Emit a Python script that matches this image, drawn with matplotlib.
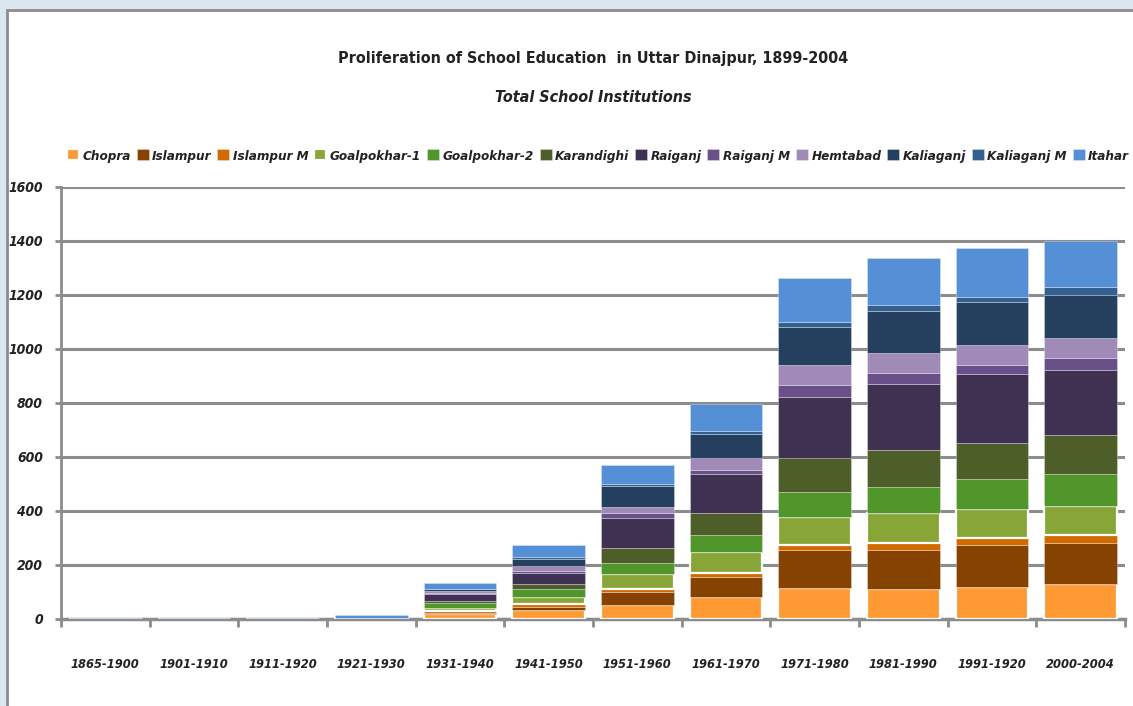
import matplotlib.pyplot as plt
from matplotlib.patches import Rectangle
import numpy as np

periods = ['1865-1900', '1901-1910', '1911-1920', '1921-1930', '1931-1940', '1941-1950',
           '1951-1960', '1961-1970', '1971-1980', '1981-1990', '1991-1920', '2000-2004']

blocks = ['Chopra', 'Islampur', 'Islampur M', 'Goalpokhar-1', 'Goalpokhar-2', 'Karandighi',
          'Raiganj', 'Raiganj M', 'Hemtabad', 'Kaliaganj', 'Kaliaganj M', 'Itahar']

chopra       = [0, 0, 0, 4, 17, 34, 53, 80, 115, 111, 120, 129]
islampur     = [0, 0, 0, 0, 6, 12, 48, 76, 140, 145, 154, 154]
islampur_m   = [0, 0, 0, 0, 8, 9, 10, 16, 18, 26, 25, 27]
goalpokhar_1 = [0, 0, 0, 0, 8, 25, 55, 77, 103, 109, 110, 109]
goalpokhar_2 = [0, 0, 0, 0, 19, 31, 43, 61, 96, 98, 108, 117]
karandighi   = [0, 0, 0, 0, 10, 18, 55, 81, 126, 136, 135, 144]
raiganj      = [0, 0, 0, 0, 24, 43, 109, 145, 226, 244, 254, 244]
raiganj_m    = [0, 0, 0, 0, 5, 7, 18, 16, 43, 43, 33, 43]
hemtabad     = [0, 0, 0, 0, 8, 19, 25, 44, 73, 72, 74, 73]
kaliaganj    = [0, 0, 0, 0, 5, 24, 77, 90, 142, 156, 162, 161]
kaliaganj_m  = [0, 0, 0, 0, 2, 6, 6, 10, 18, 24, 19, 27]
itahar       = [3, 3, 3, 10, 20, 45, 70, 101, 164, 173, 180, 173]

series = [chopra, islampur, islampur_m, goalpokhar_1, goalpokhar_2, karandighi,
          raiganj, raiganj_m, hemtabad, kaliaganj, kaliaganj_m, itahar]

colors = ['#FF9933', '#864200', '#D26A00', '#87A637', '#50962A', '#4E5E28',
          '#3F3151', '#6A5088', '#A08AB7', '#25405F', '#336091', '#558FD6']

plt.rcParams['font.family'] = ['DejaVu Sans']
plt.rcParams['font.stretch'] = 'condensed'

fig = plt.figure(figsize=(11.33, 7.06), dpi=100)
fig.patch.set_facecolor('#DCE6F1')
fig.patches.append(Rectangle((7 / 1133, -0.05), 1.05, 1.05 - 10 / 706,
                             transform=fig.transFigure, facecolor='white',
                             edgecolor='#8C8C8C', linewidth=2, zorder=-5))

ax = fig.add_axes([61 / 1133, 1 - 619 / 706, (1125 - 61) / 1133, (619 - 187) / 706])
ax.set_facecolor('none')
ax.set_zorder(2)

x = np.arange(len(periods))
bottom = np.zeros(len(periods))
for name, vals, c in zip(blocks, series, colors):
    vals = np.array(vals, dtype=float)
    ec = 'white' if name in ('Chopra', 'Goalpokhar-1') else (1, 1, 1, 0.35)
    lw = 1.6 if name in ('Chopra', 'Goalpokhar-1') else 0.6
    ax.bar(x, vals, 0.82, bottom=bottom, color=c, edgecolor=ec, linewidth=lw,
           label=name, zorder=3)
    bottom += vals

ax.set_xlim(-0.5, len(periods) - 0.5)
ax.set_ylim(0, 1600)
ax.set_yticks(range(0, 1601, 200))
ax.set_xticks(np.arange(len(periods) + 1) - 0.5, minor=False)
ax.set_xticklabels([])
ax.set_xticks(x, minor=True)
ax.set_xticklabels(periods, minor=True, fontsize=9.2, fontweight='bold', style='italic',
                   color='#222222')
ax.tick_params(axis='x', which='minor', length=0, pad=28)
ax.tick_params(axis='x', which='major', length=6, width=2, color='#8C8C8C', direction='out')
ax.tick_params(axis='y', length=4, width=2, color='#8C8C8C', pad=9)
for lab in ax.get_yticklabels():
    lab.set_fontweight('bold')
    lab.set_fontstyle('italic')
    lab.set_fontsize(10)
    lab.set_color('#222222')

ax.yaxis.grid(True, color='#8C8C8C', linewidth=2.2, zorder=1)
ax.set_axisbelow(True)
for s in ('top', 'right'):
    ax.spines[s].set_visible(False)
ax.spines['left'].set_color('#8C8C8C')
ax.spines['left'].set_linewidth(2)
ax.spines['bottom'].set_color('#8C8C8C')
ax.spines['bottom'].set_linewidth(2.5)

fig.text(593 / 1133, 1 - 58 / 706, 'Proliferation of School Education  in Uttar Dinajpur, 1899-2004',
         ha='center', va='center', fontsize=11.5, fontweight='bold', color='#222222')
fig.text(593 / 1133, 1 - 98 / 706, 'Total School Institutions',
         ha='center', va='center', fontsize=11.5, fontweight='bold', style='italic',
         color='#222222')

leg = fig.legend(loc='center', bbox_to_anchor=(598 / 1133, 1 - 156 / 706), ncol=12,
                 frameon=False, handlelength=0.9, handleheight=0.9, handletextpad=0.25,
                 columnspacing=0.45, prop={'size': 9.6, 'weight': 'bold', 'style': 'italic'})
for t in leg.get_texts():
    t.set_color('#222222')

fig.savefig('out.png', dpi=100, facecolor=fig.get_facecolor())
